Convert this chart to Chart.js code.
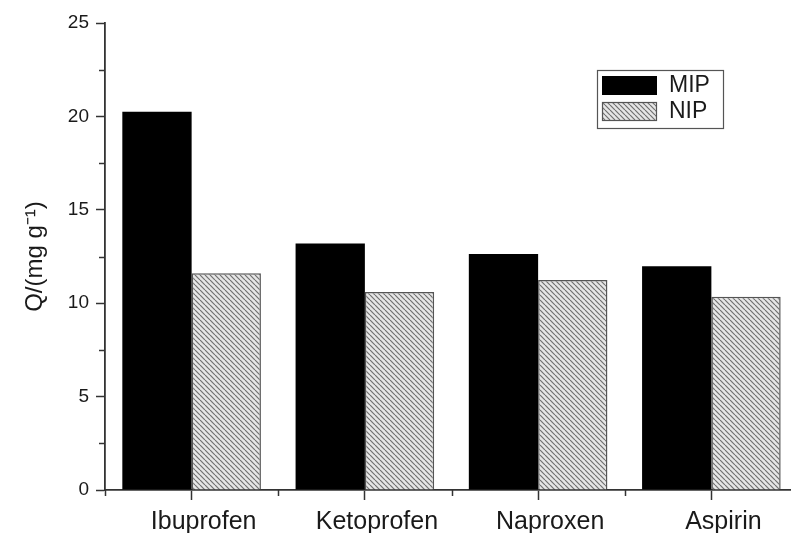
<!DOCTYPE html>
<html>
<head>
<meta charset="utf-8">
<script src="https://cdn.jsdelivr.net/npm/chart.js@4"></script>
<style>
  html, body { margin: 0; padding: 0; background: #fff; overflow: hidden; width: 791px; height: 533px; }
  canvas { display: block; }
</style>
</head>
<body>
<canvas id="c" width="810" height="533" style="width:810px;height:533px"></canvas>
<script>
const categories = ['Ibuprofen', 'Ketoprofen', 'Naproxen', 'Aspirin'];
const seriesNames = ['MIP', 'NIP'];
const mipValues = [20.25, 13.2, 12.63, 11.98];
const nipValues = [11.6, 10.6, 11.24, 10.35];
const yMin = 0, yMax = 25, yMajorStep = 5, yMinorStep = 2.5;
const axisTitle = 'Q/(mg g\u207B\u00B9)';

const FONT = "'Liberation Sans', Arial, sans-serif";
const INK = '#1a1a1a';
const AXIS = '#333';

function makeHatch() {
  const s = 5;
  const c = document.createElement('canvas');
  c.width = s; c.height = s;
  const g = c.getContext('2d');
  g.fillStyle = '#e6e6e6';
  g.fillRect(0, 0, s, s);
  g.strokeStyle = '#707070';
  g.lineWidth = 1.2;
  for (let k = -1; k <= 1; k++) {
    g.beginPath();
    g.moveTo(k * s, 0);
    g.lineTo(k * s + s, s);
    g.stroke();
  }
  return g.createPattern(c, 'repeat');
}
const hatch = makeHatch();

const minorTicks = {
  id: 'minorTicks',
  afterDraw(chart) {
    const ctx = chart.ctx;
    const xs = chart.scales.x, ys = chart.scales.y;
    ctx.save();
    ctx.strokeStyle = AXIS;
    ctx.lineWidth = 1.5;
    for (let v = yMin + yMinorStep; v < yMax; v += yMinorStep) {
      if (Math.abs(v % yMajorStep) < 1e-9) continue;
      const py = Math.round(ys.getPixelForValue(v)) + 0.5;
      ctx.beginPath();
      ctx.moveTo(xs.left - 6, py);
      ctx.lineTo(xs.left, py);
      ctx.stroke();
    }
    const half = (xs.right - xs.left) / categories.length / 2;
    const bottom = ys.bottom;
    for (let i = 0; i <= categories.length; i++) {
      const px = Math.round(xs.left + i * 2 * half) + 0.5;
      ctx.beginPath();
      ctx.moveTo(px, bottom);
      ctx.lineTo(px, bottom + 6);
      ctx.stroke();
    }
    ctx.restore();
  }
};

const boxLegend = {
  id: 'boxLegend',
  afterDraw(chart) {
    const ctx = chart.ctx;
    ctx.save();
    const bx = 597, by = 70, bw = 126, bh = 58;
    ctx.strokeStyle = '#555';
    ctx.lineWidth = 1.2;
    ctx.strokeRect(bx + 0.5, by + 0.5, bw, bh);
    chart.data.datasets.forEach((ds, i) => {
      const sy = by + 6 + i * 26;
      ctx.fillStyle = ds.backgroundColor;
      ctx.fillRect(602, sy, 55, 19);
      if (ds.borderWidth) {
        ctx.strokeStyle = ds.borderColor;
        ctx.lineWidth = 1.2;
        ctx.strokeRect(602.5, sy + 0.5, 54, 18);
      }
      ctx.fillStyle = INK;
      ctx.font = '23px ' + FONT;
      ctx.textBaseline = 'middle';
      ctx.textAlign = 'left';
      ctx.fillText(ds.label, 669, sy + 10);
    });
    ctx.restore();
  }
};

new Chart(document.getElementById('c'), {
  type: 'bar',
  data: {
    labels: categories,
    datasets: [
      { label: seriesNames[0], data: mipValues, backgroundColor: '#000', borderWidth: 0 },
      { label: seriesNames[1], data: nipValues, backgroundColor: hatch, borderColor: '#555', borderWidth: 1.5 }
    ]
  },
  options: {
    responsive: false,
    animation: false,
    devicePixelRatio: 1,
    layout: { padding: { top: 23, right: 12, left: 0, bottom: 0 } },
    datasets: { bar: { categoryPercentage: 0.8, barPercentage: 1.0 } },
    plugins: { legend: { display: false }, tooltip: { enabled: false } },
    scales: {
      x: {
        afterFit(scale) { scale.height = 43; },
        grid: { display: true, drawOnChartArea: false, drawTicks: true, tickLength: 10, offset: false, color: AXIS, tickColor: AXIS, tickWidth: 1.5 },
        border: { display: true, color: AXIS, width: 1.8 },
        ticks: { color: INK, font: { family: FONT, size: 25 }, padding: 7, labelOffset: 12, maxRotation: 0, autoSkip: false }
      },
      y: {
        min: yMin, max: yMax,
        afterFit(scale) { scale.width = 105; },
        grid: { display: true, drawOnChartArea: false, drawTicks: true, tickLength: 9, color: AXIS, tickColor: AXIS, tickWidth: 1.5 },
        border: { display: true, color: AXIS, width: 1.8 },
        ticks: { stepSize: yMajorStep, color: INK, font: { family: FONT, size: 19 }, padding: 7 },
        title: { display: true, text: axisTitle, color: INK, font: { family: FONT, size: 24 }, padding: { top: 21, bottom: 0 } }
      }
    }
  },
  plugins: [minorTicks, boxLegend]
});
</script>
</body>
</html>
